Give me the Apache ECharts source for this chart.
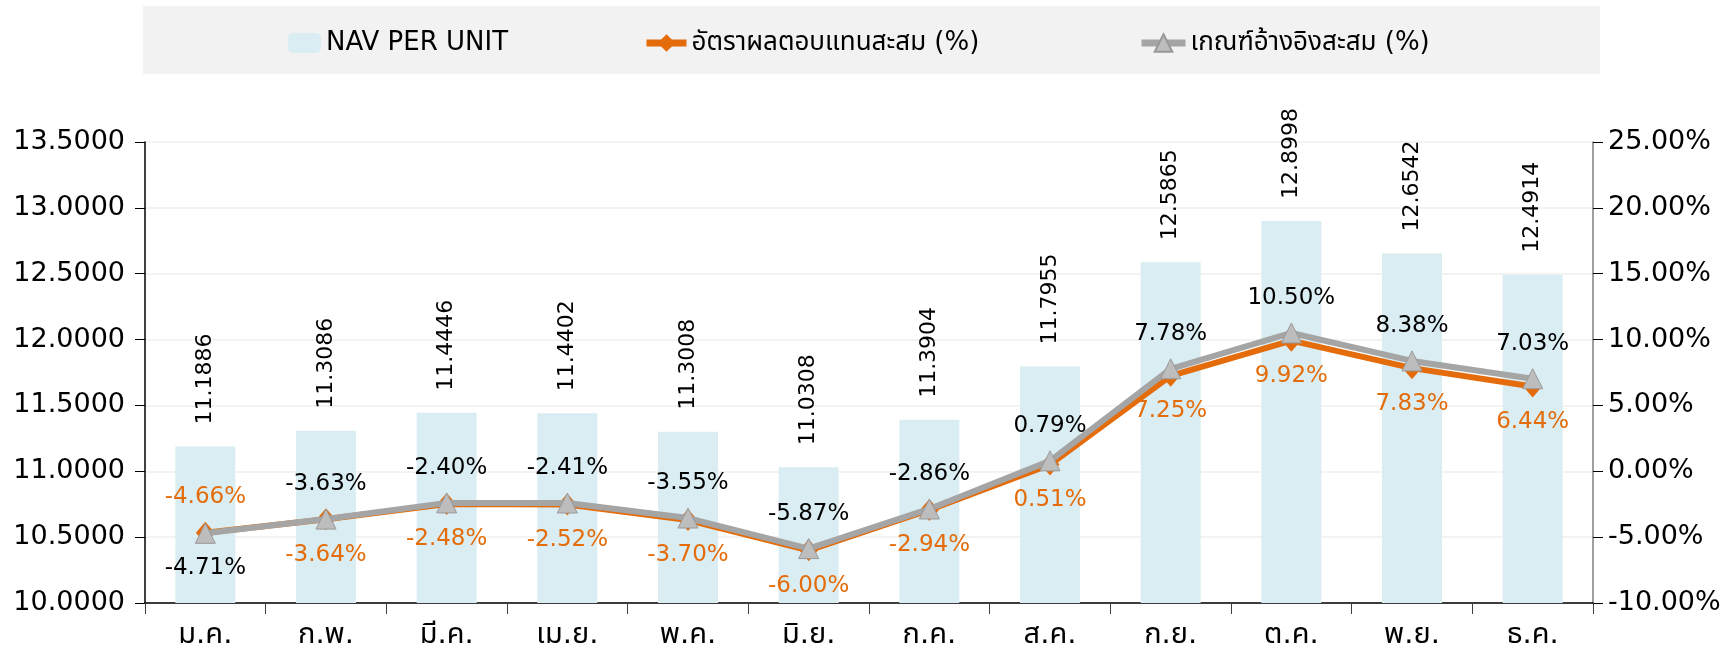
<!DOCTYPE html>
<html>
<head>
<meta charset="utf-8">
<script src="https://cdn.jsdelivr.net/npm/echarts@6/dist/echarts.min.js"></script>
<style>
  html, body { margin: 0; padding: 0; background: #fff; }
  #main { width: 1725px; height: 660px; }
</style>
</head>
<body>
<div id="main"></div>
<script>
// data
var months = ['ม.ค.', 'ก.พ.', 'มี.ค.', 'เม.ย.', 'พ.ค.', 'มิ.ย.', 'ก.ค.', 'ส.ค.', 'ก.ย.', 'ต.ค.', 'พ.ย.', 'ธ.ค.'];
var navPerUnit = [11.1886, 11.3086, 11.4446, 11.4402, 11.3008, 11.0308, 11.3904, 11.7955, 12.5865, 12.8998, 12.6542, 12.4914];
var fundReturn = [-4.66, -3.64, -2.48, -2.52, -3.70, -6.00, -2.94, 0.51, 7.25, 9.92, 7.83, 6.44];
var benchReturn = [-4.71, -3.63, -2.40, -2.41, -3.55, -5.87, -2.86, 0.79, 7.78, 10.50, 8.38, 7.03];

var FONT = '"DejaVu Sans", "Noto Sans Thai", "Noto Sans", sans-serif';
var ORANGE = '#e46c0a';
var GREY = '#a5a5a5';

var myChart = echarts.init(document.getElementById('main'));

function pct(v) { return v.toFixed(2) + '%'; }

var legendText = { fontFamily: FONT, fontSize: 26, color: '#000' };

var option = {
  backgroundColor: '#fff',
  textStyle: { fontFamily: FONT },
  animation: false,
  graphic: [{
    type: 'rect',
    shape: { x: 143, y: 6, width: 1457, height: 68 },
    style: { fill: '#f2f2f2' },
    z: -10
  }],
  legend: [
    { data: ['NAV PER UNIT'], left: 283, top: 25, itemWidth: 33, itemHeight: 20, itemGap: 4,
      textStyle: legendText },
    { data: ['อัตราผลตอบแทนสะสม (%)'], left: 638, top: 25, itemWidth: 40, itemHeight: 22,
      lineStyle: { width: 7 }, textStyle: legendText },
    { data: ['เกณฑ์อ้างอิงสะสม (%)'], left: 1133, top: 25, itemWidth: 44, itemHeight: 22,
      lineStyle: { width: 7 }, textStyle: legendText }
  ],
  grid: { left: 145, right: 132, top: 142, bottom: 57 },
  xAxis: {
    type: 'category',
    data: months,
    boundaryGap: true,
    axisLine: { onZero: false, lineStyle: { color: '#000', width: 1.5 } },
    axisTick: { show: true, length: 11, lineStyle: { color: '#404040' } },
    axisLabel: { color: '#000', fontSize: 29, margin: 18, fontFamily: FONT }
  },
  yAxis: [{
    type: 'value',
    min: 10, max: 13.5, interval: 0.5,
    axisLine: { show: true, lineStyle: { color: '#000', width: 1.5 } },
    axisTick: { show: true, length: 10, lineStyle: { color: '#000' } },
    axisLabel: { color: '#000', fontSize: 27, margin: 20, formatter: function (v) { return v.toFixed(4); } },
    splitLine: { show: true, lineStyle: { color: '#efefef', width: 1.5 } }
  }, {
    type: 'value',
    min: -10, max: 25, interval: 5,
    axisLine: { show: true, lineStyle: { color: '#7f7f7f', width: 1.5 } },
    axisTick: { show: true, length: 10, lineStyle: { color: '#000' } },
    axisLabel: { color: '#000', fontSize: 27, margin: 15, formatter: pct },
    splitLine: { show: false }
  }],
  series: [{
    name: 'NAV PER UNIT',
    type: 'bar',
    yAxisIndex: 0,
    barWidth: 60,
    data: navPerUnit,
    itemStyle: { color: '#daedf3' },
    label: {
      show: true,
      position: 'top',
      rotate: 90,
      align: 'left',
      verticalAlign: 'middle',
      distance: 22,
      color: '#000',
      fontSize: 22,
      formatter: function (p) { return p.value.toFixed(4); }
    }
  }, {
    name: 'อัตราผลตอบแทนสะสม (%)',
    type: 'line',
    yAxisIndex: 1,
    symbol: 'diamond',
    symbolSize: [19, 22],
    data: fundReturn.map(function (v, i) {
      return { value: v, label: { position: i === 0 ? 'top' : 'bottom' } };
    }),
    lineStyle: { color: ORANGE, width: 6 },
    itemStyle: { color: ORANGE },
    label: {
      show: true,
      color: ORANGE,
      fontSize: 23,
      distance: 13,
      formatter: function (p) { return pct(p.value); }
    },
    z: 3
  }, {
    name: 'เกณฑ์อ้างอิงสะสม (%)',
    type: 'line',
    yAxisIndex: 1,
    symbol: 'triangle',
    symbolSize: [20, 20],
    data: benchReturn.map(function (v, i) {
      return { value: v, label: { position: i === 0 ? 'bottom' : 'top' } };
    }),
    lineStyle: { color: GREY, width: 6 },
    itemStyle: { color: '#bdbdbd', borderColor: '#999', borderWidth: 1 },
    label: {
      show: true,
      color: '#000',
      fontSize: 23,
      distance: 13,
      formatter: function (p) { return pct(p.value); }
    },
    z: 4
  }]
};

myChart.setOption(option);
</script>
</body>
</html>
